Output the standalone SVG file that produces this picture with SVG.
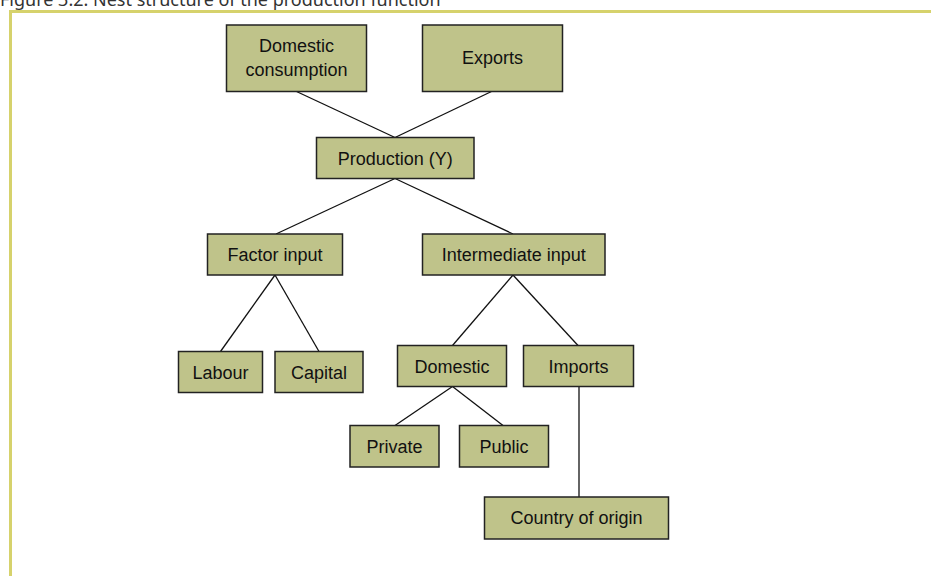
<svg xmlns="http://www.w3.org/2000/svg" width="931" height="576" viewBox="0 0 931 576">
  <style>
    .box rect { fill: #bfc38a; stroke: #222; stroke-width: 1.5; }
    .box text { font-family: "Liberation Sans", Arial, sans-serif; font-size: 18px; fill: #111; text-anchor: middle; }
    .links line { stroke: #111; stroke-width: 1.3; }
    .title { font-family: "Noto Sans", "Open Sans", sans-serif; font-size: 18px; fill: #333; }
  </style>
  <rect x="0" y="0" width="931" height="576" fill="#fff"/>
  <text class="title" x="0" y="6">Figure 3.2: Nest structure of the production function</text>
  <path d="M10.5,576 V11.5 H931" fill="none" stroke="#d6d26c" stroke-width="3"/>

  <g class="links">
    <line x1="296.5" y1="91.5" x2="395" y2="137.5"/>
    <line x1="491.5" y1="91.5" x2="395" y2="137.5"/>
    <line x1="395" y1="178.5" x2="276" y2="234"/>
    <line x1="395" y1="178.5" x2="513" y2="234"/>
    <line x1="275" y1="275" x2="220.5" y2="351.5"/>
    <line x1="275" y1="275" x2="319" y2="351.5"/>
    <line x1="513" y1="275" x2="452.5" y2="345.5"/>
    <line x1="513" y1="275" x2="578" y2="345.5"/>
    <line x1="452.5" y1="386.5" x2="395" y2="425.5"/>
    <line x1="452.5" y1="386.5" x2="503" y2="425.5"/>
    <line x1="579" y1="386.5" x2="579" y2="497"/>
  </g>

  <g id="domestic-consumption" class="box">
    <rect x="226.5" y="25" width="140" height="66.5"/>
    <text x="296.5" y="52">Domestic</text>
    <text x="296.5" y="76">consumption</text>
  </g>
  <g id="exports" class="box">
    <rect x="422.5" y="25" width="140" height="66.5"/>
    <text x="492.5" y="64">Exports</text>
  </g>
  <g id="production" class="box">
    <rect x="316.5" y="137.5" width="157.5" height="41"/>
    <text x="395.2" y="164.5">Production (Y)</text>
  </g>
  <g id="factor-input" class="box">
    <rect x="207.5" y="234" width="135" height="41"/>
    <text x="275" y="261">Factor input</text>
  </g>
  <g id="intermediate-input" class="box">
    <rect x="422.5" y="234" width="182.5" height="41"/>
    <text x="513.7" y="261">Intermediate input</text>
  </g>
  <g id="labour" class="box">
    <rect x="178.5" y="351.5" width="84" height="41"/>
    <text x="220.5" y="378.5">Labour</text>
  </g>
  <g id="capital" class="box">
    <rect x="275" y="351.5" width="88" height="41"/>
    <text x="319" y="378.5">Capital</text>
  </g>
  <g id="domestic" class="box">
    <rect x="397.5" y="345.5" width="109" height="41"/>
    <text x="452" y="372.5">Domestic</text>
  </g>
  <g id="imports" class="box">
    <rect x="523.5" y="345.5" width="110" height="41"/>
    <text x="578.5" y="372.5">Imports</text>
  </g>
  <g id="private" class="box">
    <rect x="350" y="425.5" width="89" height="41.5"/>
    <text x="394.5" y="452.5">Private</text>
  </g>
  <g id="public" class="box">
    <rect x="459.5" y="425.5" width="89" height="41.5"/>
    <text x="504" y="452.5">Public</text>
  </g>
  <g id="country-of-origin" class="box">
    <rect x="484.5" y="497" width="184" height="42"/>
    <text x="576.5" y="524">Country of origin</text>
  </g>
</svg>
